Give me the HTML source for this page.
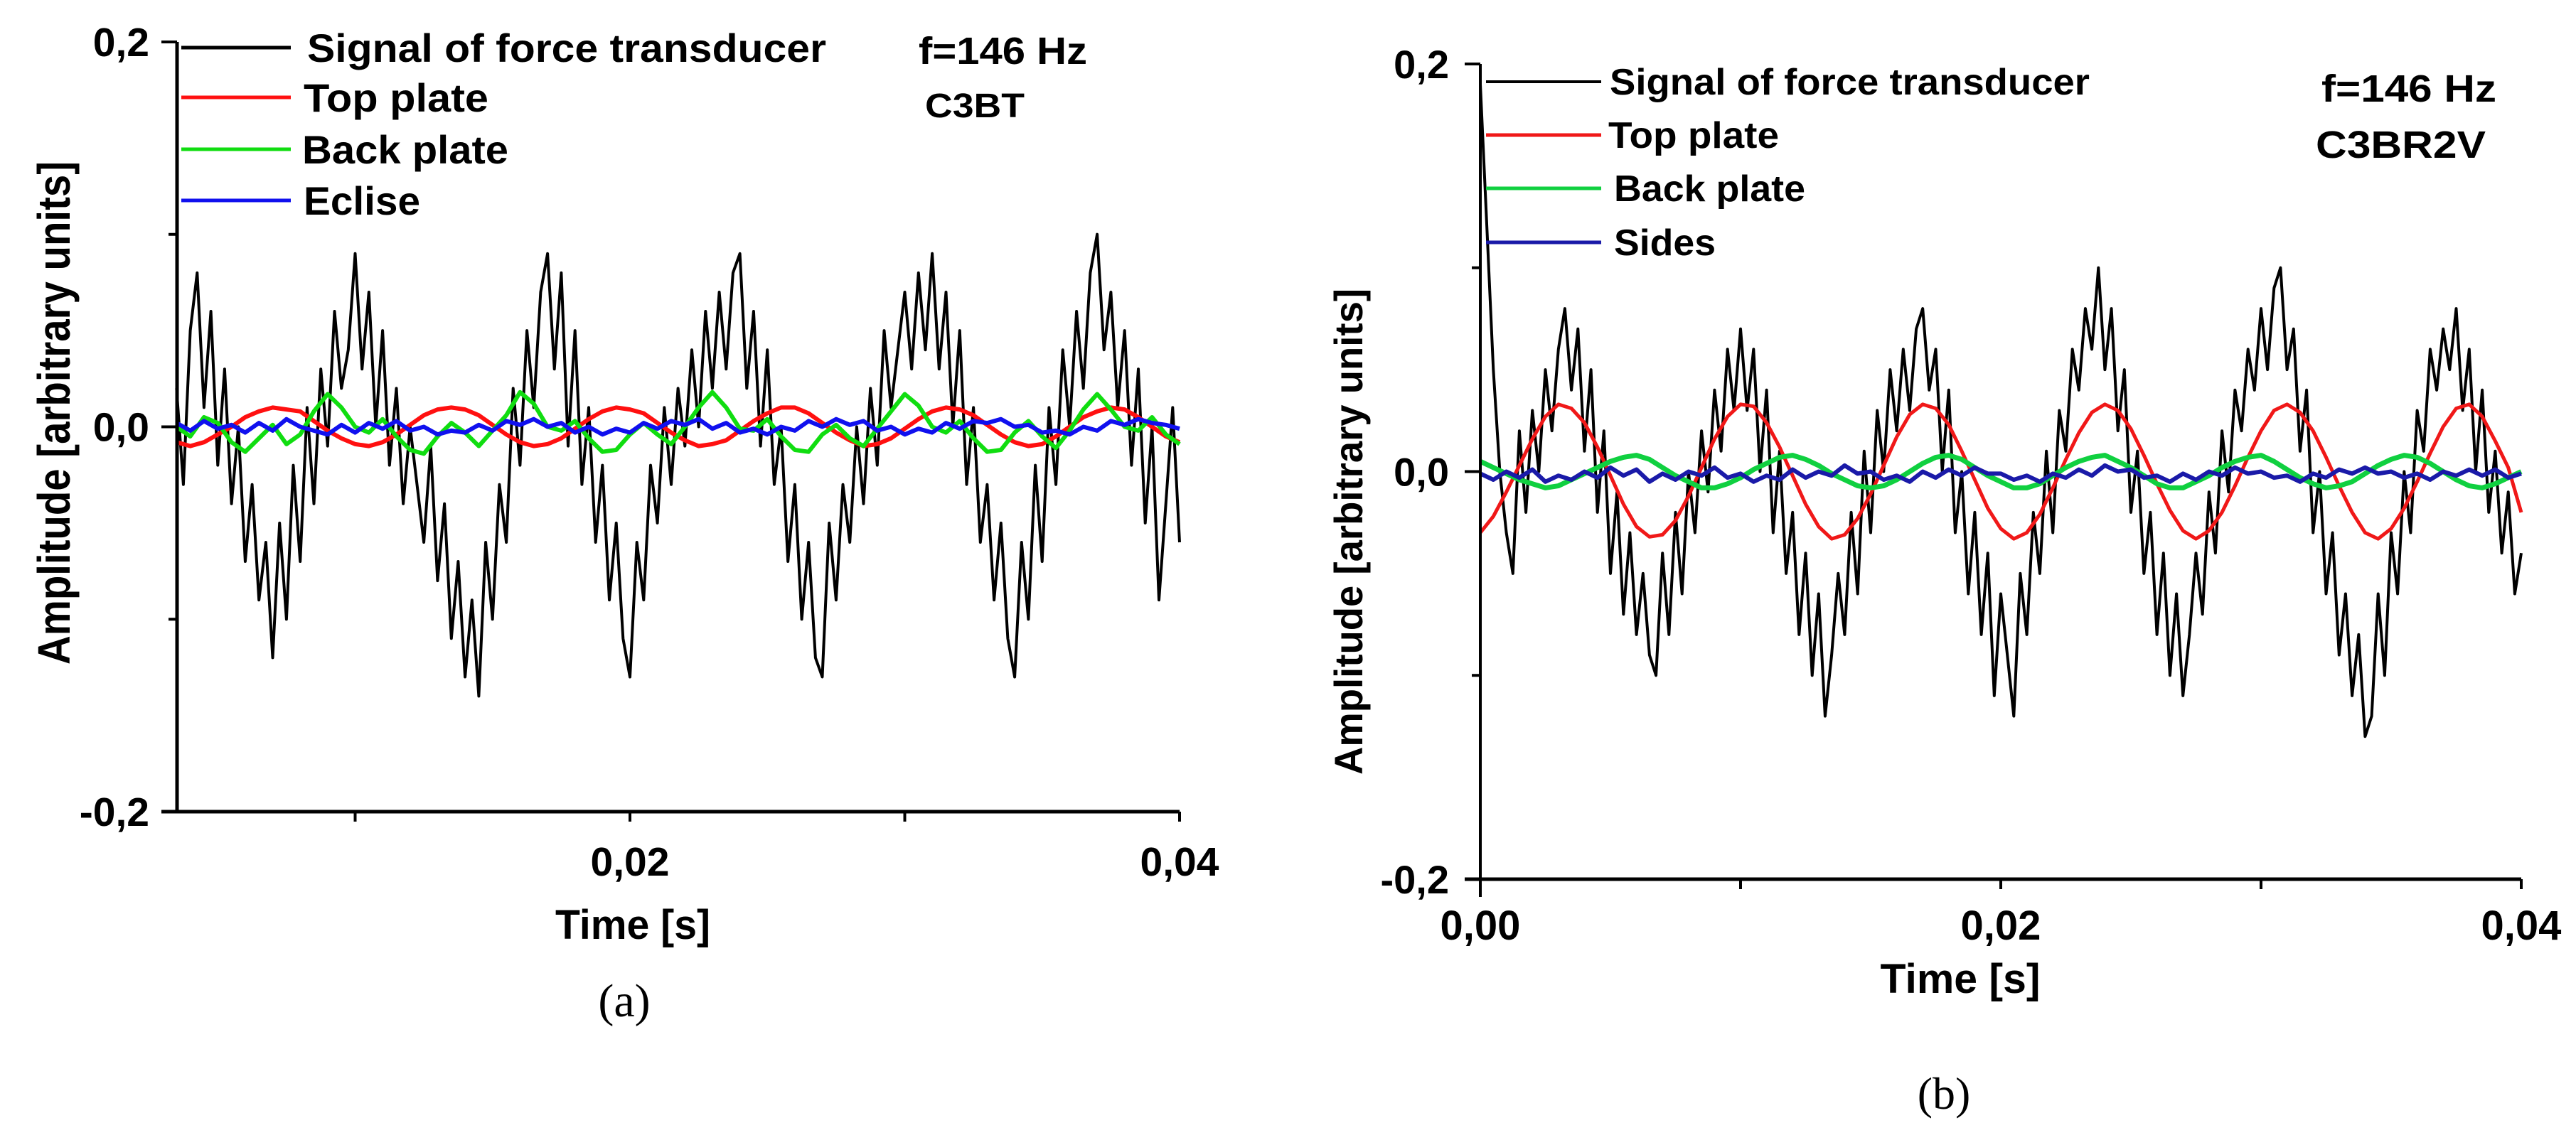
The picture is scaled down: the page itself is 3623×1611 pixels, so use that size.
<!DOCTYPE html>
<html><head><meta charset="utf-8">
<style>
html,body{margin:0;padding:0;background:#fff;}
svg{display:block;font-family:"Liberation Sans",Arial,sans-serif;}
.b{font-weight:bold;}
</style></head>
<body>
<svg id="fig" width="3623" height="1611" viewBox="0 0 3623 1611" xmlns="http://www.w3.org/2000/svg">
<rect width="3623" height="1611" fill="#fff"/>
<g id="chartA"></g>
<g id="chartB"></g>
</svg>
<script>
// ---------- Chart (a) data ----------
const aSignal = [2,-3,5,8,
 1,6,-2,3,-4,0,-7,-3,-9,-6,-12,
 -5,-10,-2,-7,1,-4,3,-1,6,2,4,9,
 3,7,0,5,-2,2,-4,0,-3,-6,-1,-8,-4,-11,-7,-13,-9,
 -14,
 -6,-10,-3,-6,2,-2,5,1,7,9,
 3,8,-1,5,-3,1,-6,-2,-9,-5,-11,-13,
 -6,-9,-2,-5,1,-3,2,-1,4,0,6,2,7,3,8,9,
 2,6,-1,4,-3,0,-7,-3,-10,-6,-12,-13,
 -5,-9,-3,-6,0,-4,2,-2,5,1,4,7,3,8,4,9,
 3,7,0,5,-3,1,-6,-3,-9,-5,-11,-13,
 -6,-10,-2,-7,1,-3,4,0,6,2,8,10,
 4,7,1,5,-2,3,-5,0,-9,-4,1,-6]; // hundredths
const aTop = [-8,-10,-8,-4,0,5,8,10,9,8,3,-2,-6,-9,-10,-8,-4,1,6,9,10,9,6,1,-4,-8,-10,-9,-6,-1,4,8,10,9,7,2,-3,-7,-10,-9,-7,-2,3,7,10,10,7,2,-3,-7,-10,-9,-6,-1,4,8,10,9,6,1,-4,-8,-10,-9,-5,0,5,8,10,9,5,0,-5,-8]; // thousandths
const aBack = [0,-5,5,2,-8,-13,-6,1,-9,-4,8,17,10,0,-3,4,-5,-12,-14,-5,2,-3,-10,-2,6,18,12,0,-2,3,-6,-13,-12,-4,2,-4,-9,0,10,18,10,-1,-2,4,-5,-12,-13,-4,1,-6,-10,-1,8,17,11,0,-3,3,-6,-13,-12,-3,3,-5,-11,-2,9,17,9,0,-2,5,-4,-9];
const aSide = [2,-2,3,-1,1,-3,2,-2,4,0,-2,-4,1,-3,2,-1,3,-2,0,-4,-2,-3,1,-2,3,1,4,0,2,-3,0,-4,-1,-3,2,-1,3,1,4,-1,2,-3,-1,-4,0,-2,3,0,4,1,3,-2,0,-4,-1,-3,2,-1,3,2,4,0,1,-3,-2,-4,0,-2,3,1,4,2,1,-1];
const aTime = [0.0035, 0.04];
// ---------- Chart (b) data ----------
const bSignal = [19,12,5,0,-3,
 -5,2,-2,3,0,5,2,6,8,
 4,7,1,5,-2,2,-5,-1,-7,-3,-8,-5,-9,-10,
 -4,-8,-2,-6,0,-3,2,-1,4,1,6,3,7,
 3,6,0,4,-3,1,-5,-2,-8,-4,-10,-6,-12,-9,
 -5,-8,-2,-6,1,-3,3,0,5,2,6,3,7,8,
 4,6,0,4,-3,0,-6,-2,-8,-4,-11,-6,-9,-12,
 -5,-8,-2,-5,1,-3,3,1,6,4,8,6,10,
 5,8,2,5,-2,1,-5,-2,-8,-4,-10,-6,-11,-8,
 -4,-7,-1,-4,2,-1,4,2,6,4,8,5,9,10,
 5,7,1,4,-3,0,-6,-3,-9,-6,-11,-8,-13,-12,
 -6,-10,-3,-6,0,-3,3,1,6,4,7,5,8,
 3,6,0,4,-2,1,-4,-1,-6,-4];
const bTop = [-30,-22,-10,3,16,27,33,31,24,12,-2,-16,-27,-32,-31,-24,-12,2,16,27,33,32,24,12,-2,-16,-27,-33,-31,-23,-11,3,17,28,33,31,23,10,-4,-18,-28,-33,-30,-21,-8,6,19,29,33,30,21,8,-6,-19,-29,-33,-29,-20,-7,7,20,30,33,29,20,7,-7,-20,-30,-33,-28,-18,-5,9,22,31,33,27,15,2,-20];
const bBack = [5,2,-1,-4,-6,-8,-7,-4,-1,2,5,7,8,6,2,-2,-5,-8,-8,-6,-3,1,4,7,8,6,3,-1,-4,-7,-8,-7,-4,0,4,7,8,6,2,-2,-5,-8,-8,-6,-2,2,5,7,8,5,2,-2,-6,-8,-8,-5,-2,2,5,7,8,5,1,-3,-6,-8,-7,-5,-1,3,6,8,7,4,0,-4,-7,-8,-6,-3,0];
const bSide = [-1,-4,0,-3,1,-5,-2,-4,0,-3,2,-2,1,-5,-1,-4,0,-2,2,-3,-1,-5,-2,-4,1,-3,0,-2,3,-1,0,-4,-2,-5,0,-3,1,-2,2,-1,-1,-4,-2,-5,-1,-3,1,-2,3,0,1,-3,-2,-5,-1,-4,0,-2,2,-1,0,-3,-2,-5,-1,-3,1,-1,2,-1,0,-3,-1,-4,0,-2,1,-2,1,-3,-1];
const bTime = [0, 0.04];
const xTickVals = [0.01,0.02,0.03,0.04];
const yTickVals = [-0.2,-0.1,0,0.1,0.2];
const xTickLabelsA = ["0,02","0,04"];
const xTickLabelsB = ["0,00","0,02","0,04"];
const yTickLabels = ["-0,2","0,0","0,2"];

const NS="http://www.w3.org/2000/svg";
function mk(parent,tag,attrs,text){const e=document.createElementNS(NS,tag);for(const k in attrs)e.setAttribute(k,attrs[k]);if(text!==undefined)e.textContent=text;parent.appendChild(e);return e;}
function scaler(d0,d1,r0,r1){return v=>r0+(v-d0)/(d1-d0)*(r1-r0);}

function series(g,vals,unit,tr,X,Y,color,w,name){
  const n=vals.length;let d="";
  for(let i=0;i<n;i++){const t=tr[0]+i*(tr[1]-tr[0])/(n-1);d+=(i?"L":"M")+X(t).toFixed(1)+","+Y(vals[i]*unit).toFixed(1);}
  const p=mk(g,"path",{d:d,fill:"none",stroke:color,"stroke-width":w,"stroke-linejoin":"round"});
  
  
}

// ---------- Chart A ----------
(function(){
 const g=document.getElementById("chartA");
 const X=scaler(0,0.04,113,1659), Y=scaler(-0.2,0.2,1142,59);
 const x0=249,x1=1659,yT=59,yB=1142;
 series(g,aSignal,0.01,aTime,X,Y,"#000",4,"signal-force-transducer-line");
 series(g,aTop,0.001,aTime,X,Y,"#ff1010",6,"top-plate-line");
 series(g,aBack,0.001,aTime,X,Y,"#10dd10",6,"back-plate-line");
 series(g,aSide,0.001,aTime,X,Y,"#1010ee",6,"eclise-line");
 const ax=mk(g,"g",{});
 
 mk(ax,"line",{x1:x0,y1:yT,x2:x0,y2:yB,stroke:"#000","stroke-width":5});
 mk(ax,"line",{x1:x0-22,y1:yB,x2:x1,y2:yB,stroke:"#000","stroke-width":5});
 yTickVals.forEach(v=>{const len=(Math.abs(v)>0.15||v===0)?22:12;mk(ax,"line",{x1:x0-len,y1:Y(v),x2:x0,y2:Y(v),stroke:"#000","stroke-width":4});});
 xTickVals.forEach(v=>{mk(ax,"line",{x1:X(v),y1:yB,x2:X(v),y2:yB+14,stroke:"#000","stroke-width":4});});
 [-0.2,0,0.2].forEach((v,i)=>{const t=mk(g,"text",{x:210,y:Y(v)+20,"text-anchor":"end","font-size":57,class:"b"},yTickLabels[i]);});
 [0.02,0.04].forEach((v,i)=>{const t=mk(g,"text",{x:X(v),y:1232,"text-anchor":"middle","font-size":57,class:"b"},xTickLabelsA[i]);});
 let t=mk(g,"text",{x:890,y:1321,"text-anchor":"middle","font-size":58,class:"b",textLength:218,lengthAdjust:"spacingAndGlyphs"},"Time [s]");
 
 t=mk(g,"text",{x:0,y:0,"text-anchor":"middle","font-size":64,class:"b",textLength:708,lengthAdjust:"spacingAndGlyphs",transform:"translate(98,581) rotate(-90)"},"Amplitude [arbitrary units]");
 
 t=mk(g,"text",{x:878,y:1430,"text-anchor":"middle","font-size":66,"font-family":"Liberation Serif, serif"},"(a)");
 
 const leg=[["#000",67,"Signal of force transducer",432,730],["#ff1010",137,"Top plate",427,260],["#10dd10",210,"Back plate",425,290],["#1010ee",282,"Eclise",427,164]];
 leg.forEach(l=>{const e=mk(g,"g",{});
  mk(e,"line",{x1:255,y1:l[1],x2:409,y2:l[1],stroke:l[0],"stroke-width":5});
  mk(e,"text",{x:l[3],y:l[1]+20,"font-size":56,class:"b",textLength:l[4],lengthAdjust:"spacingAndGlyphs"},l[2]);});
 t=mk(g,"text",{x:1292,y:90,"font-size":54,class:"b",textLength:237,lengthAdjust:"spacingAndGlyphs"},"f=146 Hz");
 
 t=mk(g,"text",{x:1301,y:165,"font-size":48,class:"b",textLength:140,lengthAdjust:"spacingAndGlyphs"},"C3BT");
 
})();

// ---------- Chart B ----------
(function(){
 const g=document.getElementById("chartB");
 const X=scaler(0,0.04,2082,3546), Y=scaler(-0.2,0.2,1237,90);
 const x0=2082,x1=3546,yT=90,yB=1237;
 series(g,bSignal,0.01,bTime,X,Y,"#000",4,"signal-force-transducer-line");
 series(g,bTop,0.001,bTime,X,Y,"#f01818",5,"top-plate-line");
 series(g,bBack,0.001,bTime,X,Y,"#10d040",7,"back-plate-line");
 series(g,bSide,0.001,bTime,X,Y,"#1a1aa8",6,"sides-line");
 const ax=mk(g,"g",{});
 
 mk(ax,"line",{x1:x0,y1:yT,x2:x0,y2:yB+25,stroke:"#000","stroke-width":4});
 mk(ax,"line",{x1:x0-22,y1:yB,x2:x1,y2:yB,stroke:"#000","stroke-width":5});
 yTickVals.forEach(v=>{const len=(Math.abs(v)>0.15||v===0)?22:12;mk(ax,"line",{x1:x0-len,y1:Y(v),x2:x0,y2:Y(v),stroke:"#000","stroke-width":4});});
 xTickVals.forEach(v=>{mk(ax,"line",{x1:X(v),y1:yB,x2:X(v),y2:yB+14,stroke:"#000","stroke-width":4});});
 [-0.2,0,0.2].forEach((v,i)=>{const t=mk(g,"text",{x:2038,y:Y(v)+20,"text-anchor":"end","font-size":56,class:"b"},yTickLabels[i]);});
 [0,0.02,0.04].forEach((v,i)=>{const t=mk(g,"text",{x:X(v),y:1322,"text-anchor":"middle","font-size":58,class:"b"},xTickLabelsB[i]);});
 let t=mk(g,"text",{x:2757,y:1397,"text-anchor":"middle","font-size":58,class:"b",textLength:225,lengthAdjust:"spacingAndGlyphs"},"Time [s]");
 
 t=mk(g,"text",{x:0,y:0,"text-anchor":"middle","font-size":56,class:"b",textLength:684,lengthAdjust:"spacingAndGlyphs",transform:"translate(1916,748) rotate(-90)"},"Amplitude [arbitrary units]");
 
 t=mk(g,"text",{x:2734,y:1560,"text-anchor":"middle","font-size":64,"font-family":"Liberation Serif, serif"},"(b)");
 
 const leg=[["#000",115,"Signal of force transducer",2264,675],["#f01818",190,"Top plate",2262,240],["#10d040",265,"Back plate",2270,269],["#1a1aa8",341,"Sides",2270,143]];
 leg.forEach(l=>{const e=mk(g,"g",{});
  mk(e,"line",{x1:2090,y1:l[1],x2:2252,y2:l[1],stroke:l[0],"stroke-width":(l[1]===115?4:5)});
  mk(e,"text",{x:l[3],y:l[1]+18,"font-size":52,class:"b",textLength:l[4],lengthAdjust:"spacingAndGlyphs"},l[2]);});
 t=mk(g,"text",{x:3265,y:143,"font-size":54,class:"b",textLength:246,lengthAdjust:"spacingAndGlyphs"},"f=146 Hz");
 
 t=mk(g,"text",{x:3257,y:222,"font-size":54,class:"b",textLength:239,lengthAdjust:"spacingAndGlyphs"},"C3BR2V");
 
})();
</script>
</body></html>
